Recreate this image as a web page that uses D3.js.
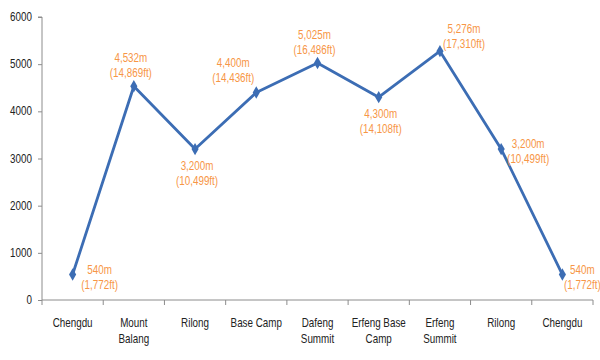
<!DOCTYPE html>
<html><head><meta charset="utf-8">
<script src="https://cdn.jsdelivr.net/npm/d3@7"></script>
<style>
html,body{margin:0;padding:0;background:#fff;}
text{font-family:"Liberation Sans",Arial,sans-serif;}
</style></head>
<body><svg id="c" width="600" height="360"></svg>
<script>
const categories = ["Chengdu","Mount Balang","Rilong","Base Camp","Dafeng Summit","Erfeng Base Camp","Erfeng Summit","Rilong","Chengdu"];
const categoryLines = [["Chengdu"],["Mount","Balang"],["Rilong"],["Base Camp"],["Dafeng","Summit"],["Erfeng Base","Camp"],["Erfeng","Summit"],["Rilong"],["Chengdu"]];
const altitudeM = [540,4532,3200,4400,5025,4300,5276,3200,540];
const altitudeFt = [1772,14869,10499,14436,16486,14108,17310,10499,1772];
const yTicks = [0,1000,2000,3000,4000,5000,6000];
const labelPos = ["right","above","below","aboveLeft","above","below","aboveRight","right","rightTight"];

(function(){
const svg = d3.select("#c");
const mLeft = 42, mRight = 593, mTop = 17, mBottom = 300;
const SX = 0.82;
const x = d3.scaleBand().domain(d3.range(categories.length)).range([mLeft,mRight]);
const y = d3.scaleLinear().domain([0,6000]).range([mBottom,mTop]);
const fmt = d3.format(",");

function addText(parent, px, py, lines, anchor, fill, lh){
  const t = parent.append("text").attr("transform",`translate(${px},${py}) scale(${SX},1)`)
    .attr("text-anchor",anchor).attr("font-size",12).attr("fill",fill);
  lines.forEach((l,j)=>t.append("tspan").attr("x",0).attr("y",j*lh).text(l));
  return t;
}

// y axis
const yAxis = svg.append("g").attr("transform",`translate(${mLeft},0)`)
  .call(d3.axisLeft(y).tickValues(yTicks).tickSize(4).tickFormat(""));
yAxis.selectAll("path,line").attr("stroke","#8c8c8c");
yAxis.select(".domain").attr("d",`M-4,${mTop}H0V${mBottom}`);
yTicks.forEach(v=>addText(svg, mLeft-10, y(v)+4, [d3.format("d")(v)], "end", "#222", 0));

// x axis
const xg = svg.append("g");
xg.append("line").attr("x1",mLeft).attr("x2",mRight).attr("y1",mBottom).attr("y2",mBottom).attr("stroke","#8c8c8c");
const bounds = d3.range(categories.length+1).map(i => i<categories.length ? x(i) : x(i-1)+x.bandwidth());
xg.selectAll("line.t").data(bounds).join("line").attr("class","t")
  .attr("x1",d=>d).attr("x2",d=>d).attr("y1",mBottom).attr("y2",mBottom+5).attr("stroke","#8c8c8c");
categoryLines.forEach((lines,i)=>addText(xg, x(i)+x.bandwidth()/2, mBottom+27, lines, "middle", "#222", 16));

const cx = i => x(i)+x.bandwidth()/2;
const line = d3.line().x((d,i)=>cx(i)).y(d=>y(d));
svg.append("path").datum(altitudeM).attr("d",line).attr("fill","none")
  .attr("stroke","#3C6DB4").attr("stroke-width",2.8).attr("stroke-linejoin","round");
svg.selectAll("path.m").data(altitudeM).join("path").attr("class","m")
  .attr("d",d3.symbol(d3.symbolDiamond,44)())
  .attr("transform",(d,i)=>`translate(${cx(i)},${y(d)})`).attr("fill","#3C6DB4");

const offs = {right:[27,-1],rightTight:[20,-1],above:[-3,-24],below:[2,21],aboveLeft:[-23,-25],aboveRight:[24,-18]};
altitudeM.forEach((v,i)=>{
  const o = offs[labelPos[i]];
  addText(svg, cx(i)+o[0], y(v)+o[1], [fmt(v)+"m", "("+fmt(altitudeFt[i])+"ft)"], "middle", "#F79646", 15);
});
})();
</script></body></html>
